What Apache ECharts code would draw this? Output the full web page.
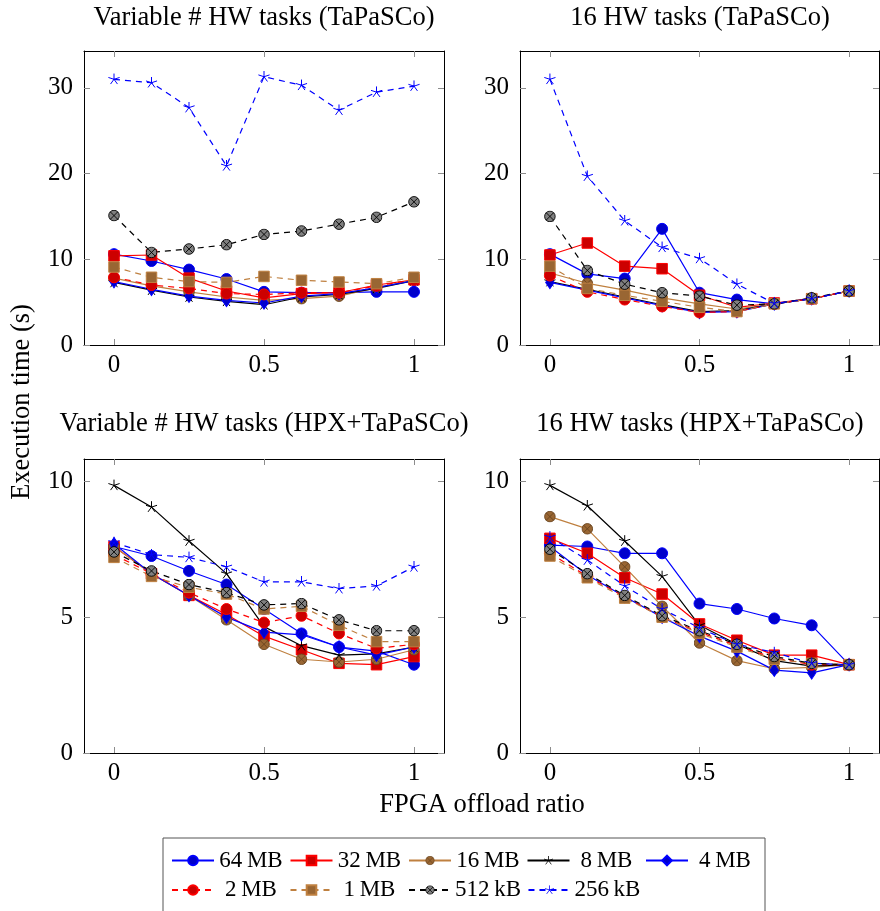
<!DOCTYPE html>
<html>
<head>
<meta charset="utf-8">
<script src="https://cdn.jsdelivr.net/npm/echarts@6/dist/echarts.min.js"></script>
<style>
html,body{margin:0;padding:0;background:#fff;}
#chart{width:880px;height:911px;}
</style>
</head>
<body>
<div id="chart"></div>
<script>
// ---------------- DATA ----------------
const offloadRatios = [0, 0.125, 0.25, 0.375, 0.5, 0.625, 0.75, 0.875, 1];
const seriesNames = ['64\u2009MB', '32\u2009MB', '16\u2009MB', '8\u2009MB', '4\u2009MB', '2\u2009MB', '1\u2009MB', '512\u2009kB', '256\u2009kB'];
const panelTitles = ['Variable # HW tasks (TaPaSCo)', '16 HW tasks (TaPaSCo)', 'Variable # HW tasks (HPX+TaPaSCo)', '16 HW tasks (HPX+TaPaSCo)'];
const xTickValues = [0, 0.5, 1];
const yTicksTop = [0, 10, 20, 30];
const yTicksBottom = [0, 5, 10];

// Panel 1: Variable # HW tasks (TaPaSCo)
const varTap_64MB  = [10.6, 9.8, 8.8, 7.7, 6.2, 6.1, 6.1, 6.2, 6.2];
const varTap_32MB  = [10.4, 10.5, 7.8, 6.3, 5.5, 6.0, 6.1, 7.0, 7.6];
const varTap_16MB  = [7.8, 6.9, 6.2, 5.6, 5.2, 5.4, 5.7, 6.7, 7.6];
const varTap_8MB   = [7.3, 6.4, 5.6, 5.1, 4.7, 5.6, 5.9, 6.6, 7.5];
const varTap_4MB   = [7.4, 6.5, 5.7, 5.2, 4.9, 5.7, 6.0, 6.7, 7.5];
const varTap_2MB   = [7.9, 7.0, 6.6, 6.0, 5.9, 6.1, 6.1, 6.9, 7.6];
const varTap_1MB   = [9.1, 7.9, 7.4, 7.3, 8.0, 7.55, 7.35, 7.15, 7.9];
const varTap_512kB = [15.1, 10.8, 11.2, 11.7, 12.9, 13.3, 14.1, 14.9, 16.7];
const varTap_256kB = [31.0, 30.6, 27.7, 20.9, 31.3, 30.3, 27.4, 29.5, 30.2];

// Panel 2: 16 HW tasks (TaPaSCo)
const fixTap_64MB  = [10.6, 8.3, 7.75, 13.55, 6.1, 5.3, 4.8, 5.4, 6.3];
const fixTap_32MB  = [10.5, 11.9, 9.2, 8.9, 5.8, 4.4, 4.9, 5.4, 6.3];
const fixTap_16MB  = [8.4, 7.2, 6.4, 5.5, 4.8, 4.2, 4.8, 5.4, 6.3];
const fixTap_8MB   = [7.4, 6.5, 5.6, 4.7, 3.9, 4.0, 4.8, 5.4, 6.3];
const fixTap_4MB   = [7.3, 6.4, 5.5, 4.6, 3.8, 3.9, 4.8, 5.4, 6.3];
const fixTap_2MB   = [8.1, 6.2, 5.3, 4.5, 3.8, 3.9, 4.8, 5.4, 6.3];
const fixTap_1MB   = [9.2, 6.6, 5.8, 5.1, 4.4, 3.9, 4.8, 5.4, 6.3];
const fixTap_512kB = [15.0, 8.7, 7.1, 6.1, 5.7, 4.65, 4.8, 5.5, 6.3];
const fixTap_256kB = [31.0, 19.7, 14.5, 11.4, 10.1, 7.1, 4.85, 5.4, 6.3];

// Panel 3: Variable # HW tasks (HPX+TaPaSCo)
const varHpx_64MB  = [7.6, 7.25, 6.7, 6.2, 5.3, 4.4, 3.9, 3.75, 3.25];
const varHpx_32MB  = [7.6, 6.6, 5.8, 5.1, 4.3, 3.8, 3.3, 3.25, 3.55];
const varHpx_16MB  = [7.6, 6.6, 5.8, 4.9, 4.0, 3.45, 3.35, 3.45, 3.8];
const varHpx_8MB   = [9.85, 9.05, 7.8, 6.6, 4.65, 3.95, 3.6, 3.65, 3.9];
const varHpx_4MB   = [7.7, 6.6, 5.8, 5.0, 4.45, 4.35, 3.9, 3.6, 3.9];
const varHpx_2MB   = [7.3, 6.6, 5.9, 5.3, 4.8, 5.05, 4.4, 3.85, 4.0];
const varHpx_1MB   = [7.2, 6.5, 6.1, 5.85, 5.3, 5.4, 4.7, 4.1, 4.1];
const varHpx_512kB = [7.4, 6.7, 6.2, 5.9, 5.45, 5.5, 4.9, 4.5, 4.5];
const varHpx_256kB = [7.75, 7.3, 7.2, 6.85, 6.3, 6.3, 6.05, 6.15, 6.85];

// Panel 4: 16 HW tasks (HPX+TaPaSCo)
const fixHpx_64MB  = [7.65, 7.6, 7.35, 7.35, 5.5, 5.3, 4.95, 4.7, 3.25];
const fixHpx_32MB  = [7.9, 7.35, 6.45, 5.85, 4.75, 4.15, 3.6, 3.6, 3.25];
const fixHpx_16MB  = [8.7, 8.25, 6.85, 5.4, 4.05, 3.4, 3.1, 3.15, 3.25];
const fixHpx_8MB   = [9.85, 9.1, 7.8, 6.5, 4.7, 4.0, 3.4, 3.2, 3.25];
const fixHpx_4MB   = [7.6, 6.55, 5.75, 5.0, 4.3, 3.75, 3.05, 2.95, 3.25];
const fixHpx_2MB   = [7.35, 6.5, 5.75, 5.0, 4.45, 3.95, 3.5, 3.25, 3.25];
const fixHpx_1MB   = [7.25, 6.45, 5.7, 5.0, 4.4, 3.9, 3.45, 3.3, 3.25];
const fixHpx_512kB = [7.5, 6.6, 5.8, 5.05, 4.5, 4.0, 3.55, 3.3, 3.25];
const fixHpx_256kB = [7.95, 7.1, 6.15, 5.3, 4.6, 4.0, 3.7, 3.3, 3.25];

const panelData = [
  [varTap_64MB, varTap_32MB, varTap_16MB, varTap_8MB, varTap_4MB, varTap_2MB, varTap_1MB, varTap_512kB, varTap_256kB],
  [fixTap_64MB, fixTap_32MB, fixTap_16MB, fixTap_8MB, fixTap_4MB, fixTap_2MB, fixTap_1MB, fixTap_512kB, fixTap_256kB],
  [varHpx_64MB, varHpx_32MB, varHpx_16MB, varHpx_8MB, varHpx_4MB, varHpx_2MB, varHpx_1MB, varHpx_512kB, varHpx_256kB],
  [fixHpx_64MB, fixHpx_32MB, fixHpx_16MB, fixHpx_8MB, fixHpx_4MB, fixHpx_2MB, fixHpx_1MB, fixHpx_512kB, fixHpx_256kB]
];

// ---------------- STYLE ----------------
const FONT = '"Liberation Serif", "Times New Roman", serif';
function svgUri(svg) { return 'image://data:image/svg+xml;charset=utf-8,' + encodeURIComponent(svg); }
function otimes(fill, stroke) {
  return svgUri("<svg xmlns='http://www.w3.org/2000/svg' width='48' height='48' viewBox='0 0 24 24'>" +
    "<circle cx='12' cy='12' r='10.6' fill='" + fill + "' stroke='" + stroke + "' stroke-width='1.8'/>" +
    "<path d='M4.5 4.5L19.5 19.5M19.5 4.5L4.5 19.5' stroke='" + stroke + "' stroke-width='1.8'/></svg>");
}
function star(color) {
  let d = '';
  for (let k = 0; k < 5; k++) {
    const a = (-90 + 72 * k) * Math.PI / 180;
    d += 'M12 12L' + (12 + 11 * Math.cos(a)).toFixed(2) + ' ' + (12 + 11 * Math.sin(a)).toFixed(2);
  }
  return svgUri("<svg xmlns='http://www.w3.org/2000/svg' width='48' height='48' viewBox='0 0 24 24'>" +
    "<path d='" + d + "' stroke='" + color + "' stroke-width='2' fill='none' stroke-linecap='round'/></svg>");
}
const DASH = [6, 5];
const styles = [
  {line: '#0000FF', dash: 'solid', symbol: 'circle', size: 11, fill: '#0000CC', border: '#0000FF'},
  {line: '#FF0000', dash: 'solid', symbol: 'rect', size: 10.5, fill: '#CC0000', border: '#FF0000'},
  {line: '#BF8040', dash: 'solid', symbol: otimes('#996633', '#6a4520'), size: 12},
  {line: '#000000', dash: 'solid', symbol: star('#000000'), size: 12},
  {line: '#0000FF', dash: 'solid', symbol: 'diamond', size: [8.5, 12.5], fill: '#0000CC', border: '#0000FF'},
  {line: '#FF0000', dash: DASH, symbol: 'circle', size: 11, fill: '#CC0000', border: '#FF0000'},
  {line: '#BF8040', dash: DASH, symbol: 'rect', size: 10.5, fill: '#996633', border: '#BF8040'},
  {line: '#000000', dash: DASH, symbol: otimes('#808080', '#000000'), size: 12},
  {line: '#0000FF', dash: DASH, symbol: star('#0000FF'), size: 12}
];

const grids = [
  {left: 84, top: 51, width: 360, height: 294},
  {left: 520, top: 51, width: 359, height: 294},
  {left: 84, top: 459, width: 360, height: 294},
  {left: 520, top: 459, width: 359, height: 294}
];
const yMaxs = [34.3, 34.3, 10.82, 10.82];
const yTicks = [yTicksTop, yTicksTop, yTicksBottom, yTicksBottom];

const axisLineStyle = {show: true, onZero: false, lineStyle: {color: '#000', width: 1}};
const tickStyle = {show: true, inside: true, length: 6, lineStyle: {color: '#8c8c8c', width: 1}};
const xAxes = [], yAxes = [], series = [];
grids.forEach((g, i) => {
  xAxes.push({type: 'value', gridIndex: i, position: 'bottom', min: -0.1, max: 1.1,
    axisLine: axisLineStyle, splitLine: {show: false},
    axisTick: Object.assign({customValues: xTickValues}, tickStyle),
    axisLabel: {customValues: xTickValues, margin: 8, color: '#000', fontFamily: FONT, fontSize: 25,
      formatter: v => String(v)}});
  xAxes.push({type: 'value', gridIndex: i, position: 'top', min: -0.1, max: 1.1,
    axisLine: axisLineStyle, splitLine: {show: false},
    axisTick: Object.assign({customValues: xTickValues}, tickStyle),
    axisLabel: {show: false}});
  yAxes.push({type: 'value', gridIndex: i, position: 'left', min: 0, max: yMaxs[i],
    axisLine: axisLineStyle, splitLine: {show: false},
    axisTick: Object.assign({customValues: yTicks[i]}, tickStyle),
    axisLabel: {customValues: yTicks[i], margin: 11, color: '#000', fontFamily: FONT, fontSize: 25}});
  yAxes.push({type: 'value', gridIndex: i, position: 'right', min: 0, max: yMaxs[i],
    axisLine: axisLineStyle, splitLine: {show: false},
    axisTick: Object.assign({customValues: yTicks[i]}, tickStyle),
    axisLabel: {show: false}});
  panelData[i].forEach((vals, s) => {
    const st = styles[s];
    series.push({
      type: 'line', name: seriesNames[s], xAxisIndex: 2 * i, yAxisIndex: 2 * i,
      data: offloadRatios.map((x, k) => [x, vals[k]]),
      symbol: st.symbol, symbolSize: st.size, showAllSymbol: true,
      lineStyle: {color: st.line, width: 1.2, type: st.dash},
      itemStyle: st.fill ? {color: st.fill, borderColor: st.border, borderWidth: 1} : {color: st.line},
      emphasis: {disabled: true}, silent: true
    });
  });
});

const textStyle = (t, x, y, size, extra) => Object.assign({type: 'text', x: x, y: y, silent: true,
  style: {text: t, font: size + 'px ' + FONT, fill: '#000', align: 'center', verticalAlign: 'middle'}}, extra || {});

const option = {
  animation: false,
  backgroundColor: '#fff',
  grid: grids,
  xAxis: xAxes,
  yAxis: yAxes,
  series: series,
  legend: {
    data: seriesNames,
    left: 163, top: 838, width: 600,
    orient: 'horizontal',
    padding: [11, 8, 12, 8],
    itemGap: 6.5,
    itemWidth: 42, itemHeight: 12,
    borderColor: '#555', borderWidth: 1,
    selectedMode: false,
    formatter: name => '{a|' + name + '}',
    textStyle: {fontFamily: FONT, fontSize: 23, color: '#000',
      rich: {a: {width: 64, align: 'center', fontFamily: FONT, fontSize: 23, lineHeight: 21}}}
  },
  graphic: [
    textStyle(panelTitles[0], 264, 18, 26.5),
    textStyle(panelTitles[1], 700, 18, 26.5),
    textStyle(panelTitles[2], 264, 424, 26.5),
    textStyle(panelTitles[3], 700, 424, 26.5),
    textStyle('FPGA offload ratio', 482, 805, 26.5),
    textStyle('Execution time (s)', 22, 402, 26.5, {rotation: Math.PI / 2})
  ]
};

const chart = echarts.init(document.getElementById('chart'), null, {renderer: 'canvas'});
chart.setOption(option);
setTimeout(() => chart.setOption(option), 50);
</script>
</body>
</html>
